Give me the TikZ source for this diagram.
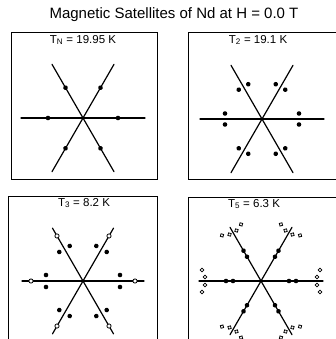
\documentclass[tikz,border=0pt]{standalone}
\usepackage{fontspec}
\setmainfont{Liberation Sans}
\usetikzlibrary{positioning}

\begin{document}
\begin{tikzpicture}[
  x=1pt, y=-1pt,
  panel/.style={draw=black, line width=1pt},
  arm/.style={draw=black, line width=1.2pt, line cap=round},
  sat/.style={fill=black},
  opensat/.style={draw=black, fill=white, line width=0.8pt},
  templabel/.style={font=\fontsize{11.5}{13}\selectfont, inner sep=1pt},
  heading/.style={font=\fontsize{15}{17}\selectfont, inner sep=0pt}
]
  \useasboundingbox (0,0) rectangle (336,339);
  \clip (0,0) rectangle (336,339);

  \node[heading] (title) at (174,15) {Magnetic Satellites of Nd at H = 0.0 T};

  % panel frames
  \draw[panel] (11,33) rectangle (157,179);
  \draw[panel] (188,33) rectangle (350,179);
  \draw[panel] (8,196) rectangle (157,350);
  \draw[panel] (188,197) rectangle (350,350);

  % temperature labels
  \node[templabel] (tN) at (83,40) {T\textsubscript{N} = 19.95 K};
  \node[templabel] (t2) at (258,40) {T\textsubscript{2} = 19.1 K};
  \node[templabel] (t3) at (84,203) {T\textsubscript{3} = 8.2 K};
  \node[templabel] (t5) at (254,204) {T\textsubscript{5} = 6.3 K};

  % T_N: single satellites on the arms
  \begin{scope}[shift={(83,118)}]
    \foreach \a in {0,60,120}
      \draw[arm, rotate=\a] (-62,0) -- (62,0);
    \foreach \a in {0,60,...,300}
      \fill[sat, rotate=\a] (35,0) circle (2.3);
  \end{scope}

  % T_2: split pairs
  \begin{scope}[shift={(262,119)}]
    \foreach \a in {0,60,120}
      \draw[arm, rotate=\a] (-62,0) -- (62,0);
    \foreach \a in {0,60,...,300} {
      \fill[sat, rotate=\a] (37,5.5) circle (2.3);
      \fill[sat, rotate=\a] (37,-5.5) circle (2.3);
    }
  \end{scope}

  % T_3: pairs plus open harmonics
  \begin{scope}[shift={(83,281)}]
    \foreach \a in {0,60,120}
      \draw[arm, rotate=\a] (-61,0) -- (61,0);
    \foreach \a in {0,60,...,300} {
      \fill[sat, rotate=\a] (37,6) circle (2.3);
      \fill[sat, rotate=\a] (37,-6) circle (2.3);
      \draw[opensat, rotate=\a] (52,0) circle (2.1);
    }
  \end{scope}

  % T_5: doubled satellites and open clusters
  \begin{scope}[shift={(261,281)}]
    \foreach \a in {0,60,120}
      \draw[arm, rotate=\a] (-62,0) -- (62,0);
    \foreach \a in {0,60,...,300} {
      \fill[sat, rotate=\a] (28,0) circle (2.3);
      \fill[sat, rotate=\a] (35,0) circle (2.3);
      \foreach \r/\p in {56/4, 56/-4, 59/11, 59/-11}
        \draw[opensat, rotate=\a] (\r,\p) circle (1.9);
    }
  \end{scope}
\end{tikzpicture}
\end{document}
